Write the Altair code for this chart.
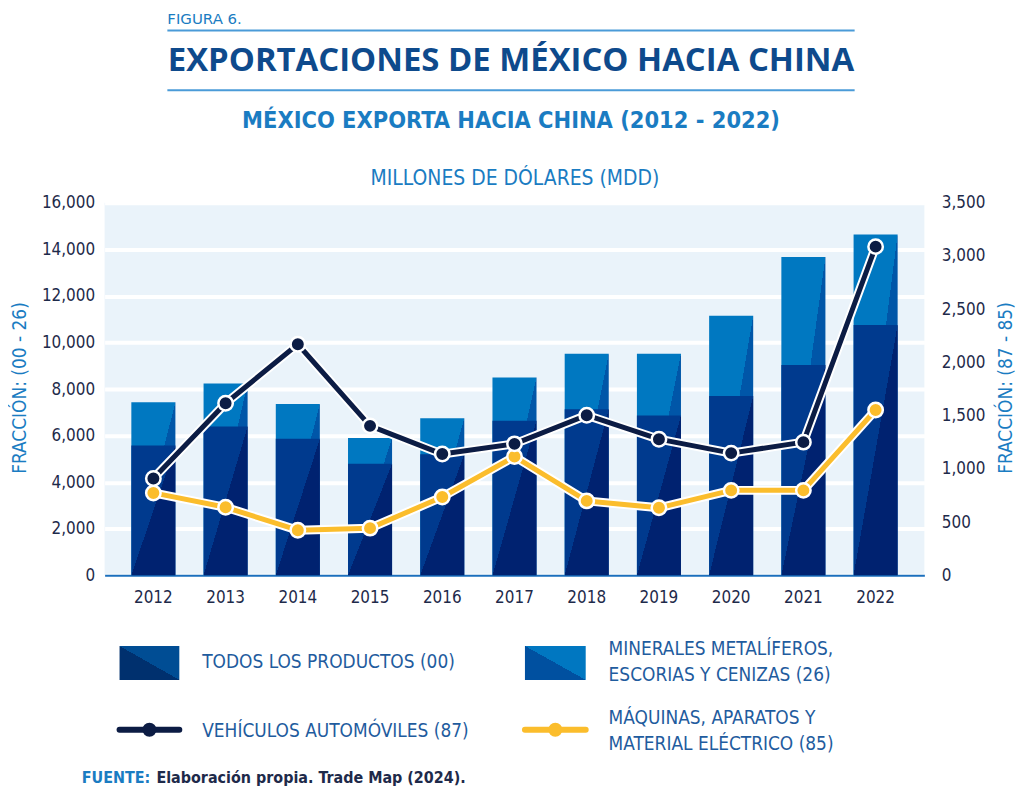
import altair as alt
import pandas as pd

# ---------------- data ----------------
years = ["2012", "2013", "2014", "2015", "2016", "2017", "2018", "2019", "2020", "2021", "2022"]
todos = [5570, 6390, 5860, 4790, 5200, 6640, 7130, 6860, 7700, 9030, 10750]
minerales = [1860, 1850, 1500, 1110, 1540, 1860, 2390, 2660, 3450, 4640, 3890]
vehiculos = [910, 1616, 2171, 1404, 1139, 1235, 1504, 1279, 1148, 1251, 3088]
maquinas = [774, 639, 424, 443, 736, 1116, 699, 634, 798, 798, 1553]

left_ticks = [0, 2000, 4000, 6000, 8000, 10000, 12000, 14000, 16000]
right_ticks = [0, 500, 1000, 1500, 2000, 2500, 3000, 3500]

bars_df = pd.DataFrame({
    "year": years,
    "todos": todos,
    "tope": [a + b for a, b in zip(todos, minerales)],
})
veh_df = pd.DataFrame({"year": years, "value": vehiculos})
maq_df = pd.DataFrame({"year": years, "value": maquinas})

# ---------------- styles ----------------
COND = "DejaVu Sans Condensed, Liberation Sans Narrow, Roboto"
WIDE = "Open Sans, Lato, DejaVu Sans"
DARK_TXT = "#1e2a4a"
BLUE_TXT = "#1a7cc2"
LEG_TXT = "#1f5c9e"
NAVY = "#0c1c44"
YELLOW = "#fbbd2c"

W, H = 823, 374


def diag(c_left, c_right):
    # sharp diagonal split from bottom-left to top-right
    return alt.Gradient(
        gradient="linear", x1=0, y1=0, x2=1, y2=1,
        stops=[alt.GradientStop(color=c_left, offset=0),
               alt.GradientStop(color=c_left, offset=0.5),
               alt.GradientStop(color=c_right, offset=0.5),
               alt.GradientStop(color=c_right, offset=1)])


def diag_legend(c_light, c_dark):
    # diagonal from top-left to bottom-right, darker lower-left
    return alt.Gradient(
        gradient="linear", x1=1, y1=0, x2=0, y2=1,
        stops=[alt.GradientStop(color=c_light, offset=0),
               alt.GradientStop(color=c_light, offset=0.5),
               alt.GradientStop(color=c_dark, offset=0.5),
               alt.GradientStop(color=c_dark, offset=1)])


xenc = alt.X("year:N", sort=years,
             scale=alt.Scale(paddingInner=0.39, paddingOuter=0.37),
             axis=alt.Axis(title=None, labelAngle=0, ticks=False, domain=True,
                           domainColor="#1b6fbd", domainWidth=2,
                           labelFont=COND, labelFontSize=17, labelColor=DARK_TXT,
                           labelPadding=14, grid=False))

yleft_scale = alt.Scale(domain=[0, 16000], nice=False)
yleft_axis = alt.Axis(title=None, values=left_ticks, format=",d", orient="left",
                      ticks=False, domain=False, grid=True, gridColor="white",
                      gridWidth=4, gridOpacity=1, labelFont=COND, labelFontSize=17,
                      labelColor=DARK_TXT, labelPadding=10)

light = alt.Chart(bars_df).mark_bar(
    color=diag("#0078c1", "#0056a8")
).encode(x=xenc, y=alt.Y("tope:Q", scale=yleft_scale, axis=yleft_axis))

dark = alt.Chart(bars_df).mark_bar(
    color=diag("#003a8e", "#002270")
).encode(x=xenc, y=alt.Y("todos:Q", scale=yleft_scale, axis=yleft_axis))

bars = alt.layer(light, dark)

yright = alt.Y("value:Q", scale=alt.Scale(domain=[0, 3500], nice=False),
               axis=alt.Axis(title=None, values=right_ticks, format=",d", orient="right",
                             ticks=False, domain=False, grid=False, labelFont=COND,
                             labelFontSize=17, labelColor=DARK_TXT, labelPadding=17))


def series(df, color):
    halo = alt.Chart(df).mark_line(color="white", strokeWidth=9, strokeJoin="round",
                                   strokeCap="round").encode(x=xenc, y=yright)
    ln = alt.Chart(df).mark_line(color=color, strokeWidth=5, strokeJoin="round",
                                 strokeCap="round").encode(x=xenc, y=yright)
    pt = alt.Chart(df).mark_point(filled=True, color=color, size=210, opacity=1,
                                  stroke="white", strokeWidth=2.5).encode(x=xenc, y=yright)
    return [halo, ln, pt]


lines = alt.layer(*series(maq_df, YELLOW), *series(veh_df, NAVY))

# ---------------- decorations (titles, legend, source) ----------------
def text(t, x, y, size, color, font=COND, weight="normal", align="left", angle=0):
    return alt.Chart(pd.DataFrame({"t": [t]})).mark_text(
        align=align, baseline="middle", fontSize=size, font=font,
        fontWeight=weight, color=color, angle=angle
    ).encode(text="t:N", x=alt.value(x), y=alt.value(y))


def hrule(x1, x2, y, color, width):
    return alt.Chart(pd.DataFrame({"a": [0]})).mark_rule(
        color=color, strokeWidth=width).encode(
        x=alt.value(x1), x2=alt.value(x2), y=alt.value(y))


def lrect(x1, x2, y1, y2, grad):
    return alt.Chart(pd.DataFrame({"a": [0]})).mark_rect(color=grad).encode(
        x=alt.value(x1), x2=alt.value(x2), y=alt.value(y1), y2=alt.value(y2))


def lline(x1, x2, y, color):
    r = alt.Chart(pd.DataFrame({"a": [0]})).mark_rule(
        color=color, strokeWidth=6, strokeCap="round").encode(
        x=alt.value(x1), x2=alt.value(x2), y=alt.value(y))
    p = alt.Chart(pd.DataFrame({"a": [0]})).mark_point(
        filled=True, color=color, size=200, opacity=1).encode(
        x=alt.value((x1 + x2) / 2), y=alt.value(y))
    return [r, p]


decor = [
    text("FIGURA 6.", 63, -184, 15, BLUE_TXT, font="DejaVu Sans"),
    hrule(63, 753, -173, "#4a9bd8", 2),
    text("EXPORTACIONES DE MÉXICO HACIA CHINA", 408, -142, 33, "#0e4a8c",
         font=WIDE, weight="bold", align="center"),
    hrule(63, 753, -113, "#4a9bd8", 2),
    text("MÉXICO EXPORTA HACIA CHINA (2012 - 2022)", 408, -82, 23.5, BLUE_TXT,
         weight="bold", align="center"),
    text("MILLONES DE DÓLARES (MDD)", 412, -24, 21, BLUE_TXT, align="center"),
    text("FRACCIÓN: (00 - 26)", -85, 186, 19, BLUE_TXT, align="center", angle=270),
    text("FRACCIÓN: (87 - 85)", 905, 186, 19, BLUE_TXT, align="center", angle=270),
    lrect(15, 75, 445, 479, diag_legend("#004d94", "#00306e")),
    lrect(422, 483, 445, 479, diag_legend("#0077c1", "#0050a0")),
    *lline(15, 75, 529, NAVY),
    *lline(422, 483, 529, YELLOW),
    text("TODOS LOS PRODUCTOS (00)", 98, 461, 19, LEG_TXT),
    text("MINERALES METALÍFEROS,", 506, 448, 19, LEG_TXT),
    text("ESCORIAS Y CENIZAS (26)", 506, 474, 19, LEG_TXT),
    text("VEHÍCULOS AUTOMÓVILES (87)", 98, 530, 19, LEG_TXT),
    text("MÁQUINAS, APARATOS Y", 506, 517, 19, LEG_TXT),
    text("MATERIAL ELÉCTRICO (85)", 506, 543, 19, LEG_TXT),
    text("FUENTE:", -23, 578, 16, BLUE_TXT, weight="bold"),
    text("Elaboración propia. Trade Map (2024).", 52, 578, 16, DARK_TXT, weight="bold"),
]

chart = alt.layer(bars, lines, *decor).resolve_scale(y="independent").properties(
    width=W, height=H,
    autosize=alt.AutoSizeParams(type="none"),
    padding={"left": 97, "top": 194, "right": 92, "bottom": 212},
    background="white",
).configure_view(fill="#eaf3fa", stroke=None)

chart.save("out.html", embed_options={"renderer": "svg", "actions": False})
